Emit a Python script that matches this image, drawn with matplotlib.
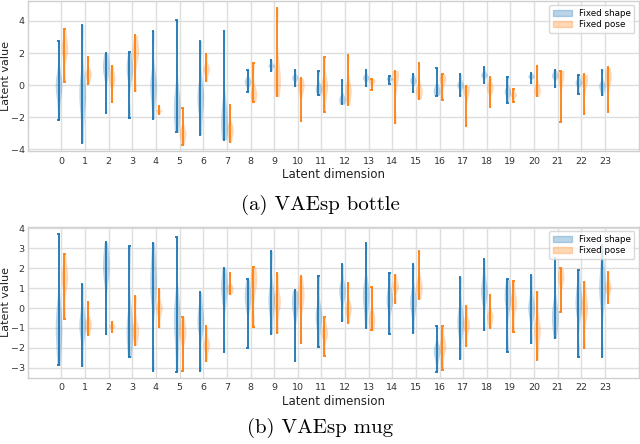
import matplotlib
matplotlib.use("Agg")
import matplotlib.pyplot as plt
import matplotlib.patches as mpatches
import numpy as np

dims = list(range(24))

# (a) VAEsp bottle
a_shape_lo = [-2.16, -3.59, -1.75, -2.02, -2.10, -2.93, -3.09, -3.40, -0.43, 0.89, -0.04, -0.64,
              -1.18, -0.04, 0.10, -0.45, -0.66, -0.70, 0.12, -1.11, 0.12, -0.14, -0.54, -0.64]
a_shape_hi = [2.76, 3.77, 1.98, 2.04, 3.40, 4.06, 2.76, 3.40, 0.97, 1.59, 0.95, 0.91,
              0.33, 0.95, 0.60, 0.70, 1.05, 0.70, 1.11, 0.49, 0.76, 0.97, 0.66, 0.97]
a_shape_mid = [0.0, -0.5, 1.05, 0.95, 0.0, -1.3, -0.7, -2.1, 0.23, 1.22, 0.47, -0.19,
               -0.87, 0.47, 0.39, 0.27, -0.29, 0.02, 0.64, -0.39, 0.54, 0.58, 0.16, -0.04]
a_pose_lo = [0.20, 0.08, -1.07, -0.39, -1.80, -3.71, 0.25, -3.55, -1.03, -0.70, -2.23, -1.69,
             -1.22, -0.33, -2.37, -0.87, -0.95, -2.52, -1.36, -1.03, -0.70, -2.27, -1.77, -1.67]
a_pose_hi = [3.50, 1.75, 1.22, 3.13, -1.32, -1.44, 1.92, -1.24, 1.36, 4.82, 0.45, 1.75,
             1.88, 0.41, 0.91, 1.36, 0.70, -0.04, 0.49, -0.25, 1.20, 0.91, 0.68, 1.11]
a_pose_mid = [2.25, 0.70, 0.37, 2.08, -1.59, -2.97, 1.01, -2.76, -0.50, 0.50, -0.12, -0.08,
              -0.29, 0.23, 0.58, -0.33, 0.33, -0.25, -0.19, -0.60, -0.25, 0.64, 0.33, 0.43]

# (b) VAEsp mug
b_shape_lo = [-2.88, -2.93, -1.30, -2.47, -3.14, -3.19, -3.14, -2.21, -2.02, -1.30, -2.68, -1.97,
              -0.64, -1.00, -1.30, -1.24, -3.19, -2.54, -1.12, -2.22, -1.76, -1.50, -2.47, -2.44]
b_shape_hi = [3.73, 1.22, 3.29, 3.09, 3.28, 3.55, 0.79, 2.00, 1.44, 2.88, 0.89, 1.59,
              2.21, 3.26, 1.74, 2.21, -0.92, 1.56, 2.46, 1.45, 1.64, 2.51, 1.92, 3.14]
b_shape_mid = [-0.84, -0.84, 2.00, -1.00, 1.17, -0.50, -0.67, 0.92, 0.50, 0.42, 0.17, -0.42,
               0.84, 0.67, 0.42, 0.33, -2.17, -0.67, 0.84, 0.50, 0.00, -0.33, 0.25, 1.00]
b_pose_lo = [-0.54, -1.37, -1.20, -1.86, -0.95, -3.14, -2.68, 0.70, -0.95, -1.25, -1.77, -2.42,
             -0.75, -1.12, 0.25, 0.45, -3.09, -1.89, -1.00, -1.20, -2.59, -0.18, -2.00, 0.25]
b_pose_hi = [2.69, 0.30, -0.72, 0.60, 0.94, -0.43, -0.92, 1.74, 2.06, 1.74, 1.59, -0.43,
             1.24, 1.04, 1.67, 2.86, -0.92, 0.10, 0.65, 1.35, 0.82, 2.00, 1.32, 1.79]
b_pose_mid = [1.50, -0.80, -0.92, -1.09, 0.00, -1.25, -1.84, 1.00, 1.34, 0.33, 0.59, -1.25,
              0.00, -0.54, 1.09, 1.09, -1.92, -0.84, -0.42, 0.25, -1.09, 1.50, 0.00, 1.04]

series_labels = ["Fixed shape", "Fixed pose"]
C_SHAPE = "#1f77b4"
C_POSE = "#ff7f0e"


def samples(lo, mid, hi):
    return [[l, m, m, m, h] for l, m, h in zip(lo, mid, hi)]


def draw(ax, s_lo, s_mid, s_hi, p_lo, p_mid, p_hi, ylim, yticks):
    ax.set_axisbelow(True)
    ax.grid(True, color="#dedede", linewidth=1.0)
    pos = np.array(dims, dtype=float)
    handles = []
    for data, off, col in [(samples(s_lo, s_mid, s_hi), -0.125, C_SHAPE),
                           (samples(p_lo, p_mid, p_hi), 0.125, C_POSE)]:
        vp = ax.violinplot(data, positions=pos + off, widths=0.28, showextrema=True,
                           bw_method=0.45)
        for b in vp["bodies"]:
            b.set_facecolor(col)
            b.set_edgecolor(col)
            b.set_alpha(0.3)
            b.set_linewidth(0.0)
        for k in ("cbars", "cmins", "cmaxes"):
            vp[k].set_color(col)
            vp[k].set_linewidth(1.3)
        vp["cmins"].set_segments([[(x0 + 0.02, y0), (x1 - 0.02, y1)]
                                  for (x0, y0), (x1, y1) in vp["cmins"].get_segments()])
        vp["cmaxes"].set_segments([[(x0 + 0.02, y0), (x1 - 0.02, y1)]
                                   for (x0, y0), (x1, y1) in vp["cmaxes"].get_segments()])
        handles.append(mpatches.Patch(facecolor=col, edgecolor=col, alpha=0.3))
    ax.set_xticks(dims)
    ax.set_xticklabels([str(d) for d in dims])
    ax.set_yticks(yticks)
    ax.set_xlim(-1.41, 24.43)
    ax.set_ylim(*ylim)
    ax.tick_params(axis="x", length=0, labelsize=6.8, colors="#333333", pad=4)
    ax.tick_params(axis="y", length=0, labelsize=6.8, colors="#333333", pad=2.5)
    for sp in ax.spines.values():
        sp.set_color("#d0d0d0")
        sp.set_linewidth(1.0)
    ax.set_xlabel("Latent dimension", fontsize=8.5, color="#222222", labelpad=2)
    ax.set_ylabel("Latent value", fontsize=8.0, color="#222222")
    ax.yaxis.set_label_coords(-0.0275, 0.5)
    ax.legend(handles, series_labels, loc="upper right", fontsize=6.3,
              frameon=True, framealpha=0.8, edgecolor="#d0d0d0", fancybox=True,
              handlelength=2.2, borderpad=0.4, labelspacing=0.3)


fig = plt.figure(figsize=(6.4, 4.44), dpi=100)
ax1 = fig.add_axes([0.044, 0.66, 0.954, 0.338])
ax2 = fig.add_axes([0.044, 0.149, 0.954, 0.340])

draw(ax1, a_shape_lo, a_shape_mid, a_shape_hi, a_pose_lo, a_pose_mid, a_pose_hi,
     (-4.1, 5.25), [-4, -2, 0, 2, 4])
draw(ax2, b_shape_lo, b_shape_mid, b_shape_hi, b_pose_lo, b_pose_mid, b_pose_hi,
     (-3.5, 4.07), [-3, -2, -1, 0, 1, 2, 3, 4])

fig.text(0.5, 1 - 205 / 444, "(a) VAEsp bottle", family="cmr10", fontsize=15,
         ha="center", va="center")
fig.text(0.5, 1 - 428 / 444, "(b) VAEsp mug", family="cmr10", fontsize=15,
         ha="center", va="center")

fig.savefig("out.png", dpi=100)
